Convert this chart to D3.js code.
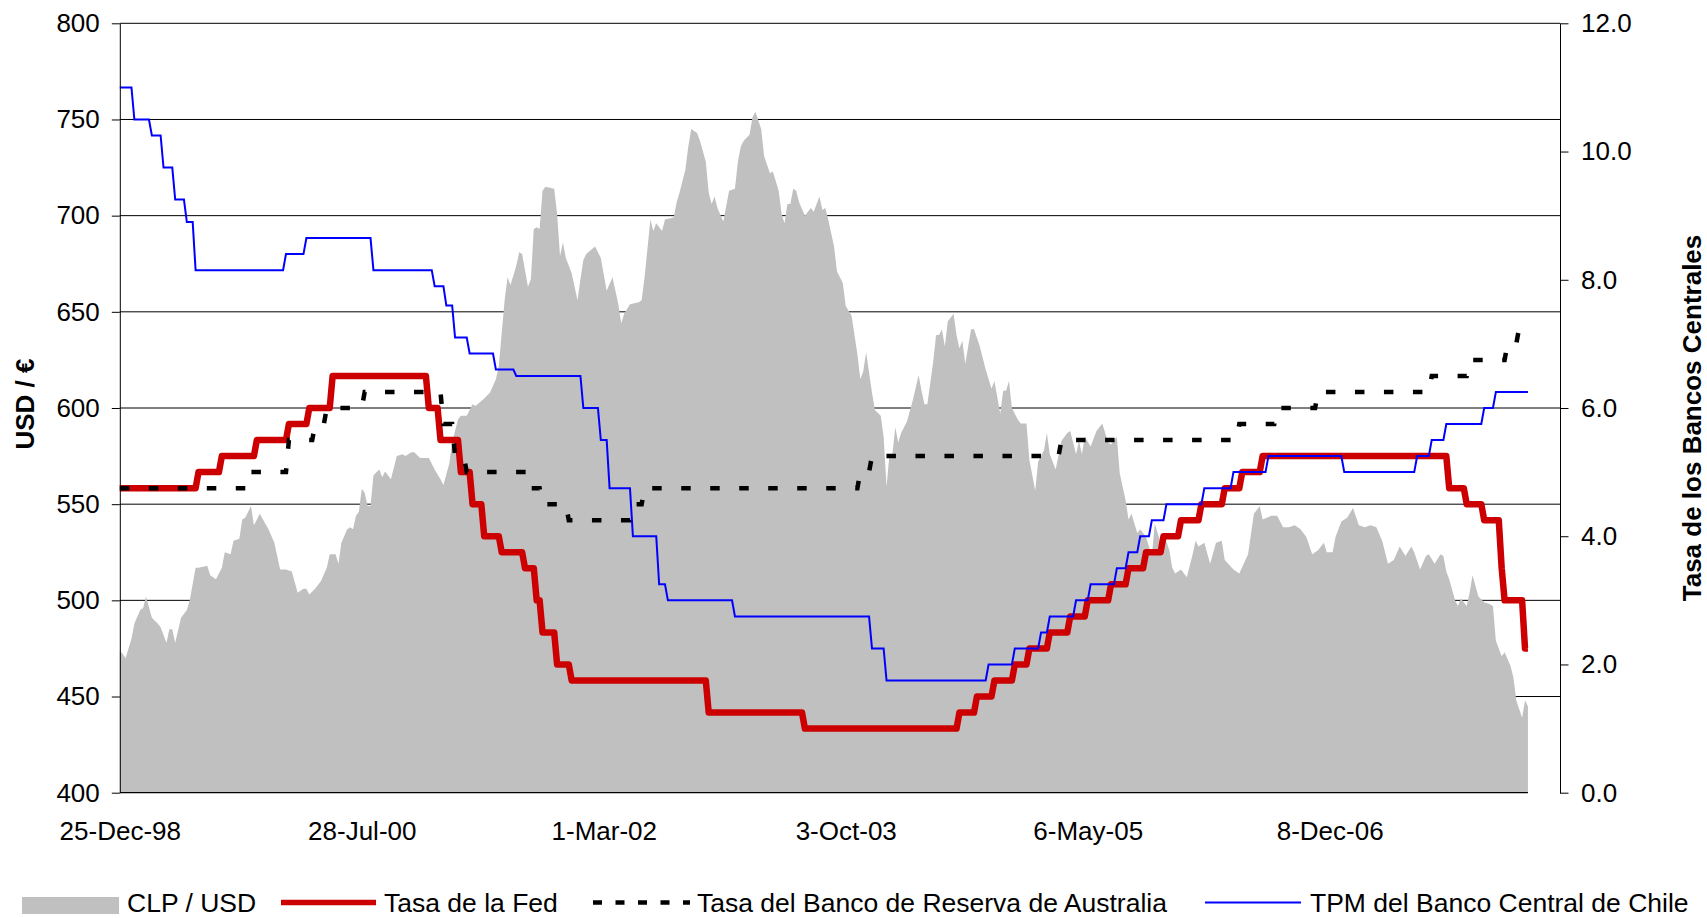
<!DOCTYPE html>
<html lang="es">
<head>
<meta charset="UTF-8">
<title>CLP/USD y tasas de bancos centrales</title>
<style>
    body {
        margin: 0;
        background: #fff;
        overflow: hidden;
    }
    svg {
        display: block;
        font-family: "Liberation Sans", Arial, sans-serif;
    }
    .tick text {
        font-size: 26px;
        fill: #000;
    }
    .grid line {
        stroke: #000;
        stroke-width: 1;
    }
    .legend text {
        font-size: 26.5px;
    }
</style>
</head>
<body>

<svg id="chart" width="1707" height="918"></svg>

<script src="https://cdnjs.cloudflare.com/ajax/libs/d3/7.8.5/d3.min.js"></script>
<script>
// weekly rows (Fridays), first row 25-Dec-98, last row 28-Mar-08
const startDate = "1998-12-25";
const endDate = "2008-03-28";
const axisEnd = "2008-06-13";

const xTickDates = ["1998-12-25", "2000-07-28", "2002-03-01", "2003-10-03", "2005-05-06", "2006-12-08"];
const usdTicks = [400, 450, 500, 550, 600, 650, 700, 750, 800];
const rateTicks = [0, 2, 4, 6, 8, 10, 12];

const seriesNames = ["CLP / USD", "Tasa de la Fed", "Tasa del Banco de Reserva de Australia", "TPM del Banco Central de Chile"];

// CLP / USD, [week number counted from 25-Dec-98, value]
const clpUsd = [
    [0, 474], [2, 470], [4, 480], [5, 488], [7, 495], [8, 496], [9, 502], [11, 491], [13, 488], [14, 486],
    [16, 478], [17, 485], [18, 485], [19, 478], [21, 491], [23, 495], [24, 500], [26, 517], [27, 517], [30, 518],
    [31, 513], [33, 511], [35, 517], [36, 525], [38, 524], [39, 531], [41, 532], [42, 542], [43, 543], [45, 549],
    [46, 539], [48, 545], [51, 537], [53, 530], [55, 516], [57, 516], [59, 515], [61, 504], [63, 506], [64, 506],
    [65, 503], [67, 506], [69, 510], [71, 517], [72, 524], [74, 524], [75, 519], [76, 530], [78, 537], [79, 538],
    [80, 537], [81, 544], [82, 546], [83, 558], [84, 556], [85, 549], [86, 549], [87, 565], [89, 568], [90, 564],
    [91, 567], [93, 563], [95, 575], [97, 576], [98, 575], [100, 577], [101, 577], [103, 574], [106, 574], [108, 568],
    [110, 563], [111, 560], [113, 571], [114, 582], [116, 594], [117, 596], [119, 596], [121, 602], [122, 601], [125, 605],
    [127, 608], [129, 615], [130, 622], [131, 639], [132, 656], [133, 668], [134, 664], [136, 674], [137, 681], [138, 680],
    [140, 663], [141, 667], [142, 693], [143, 694], [144, 693], [145, 713], [146, 715], [149, 714], [150, 701], [151, 679],
    [152, 686], [153, 678], [155, 670], [157, 656], [158, 667], [159, 677], [160, 680], [163, 684], [165, 678], [167, 661],
    [169, 668], [171, 654], [172, 644], [173, 649], [175, 654], [178, 655], [179, 656], [180, 668], [182, 698], [183, 692],
    [184, 696], [186, 692], [187, 698], [190, 699], [191, 707], [192, 712], [194, 724], [195, 736], [196, 745], [198, 743],
    [199, 739], [201, 728], [202, 712], [203, 706], [204, 710], [205, 704], [207, 697], [209, 713], [211, 714], [212, 728],
    [213, 736], [214, 739], [216, 742], [217, 751], [218, 754], [220, 745], [221, 731], [223, 722], [224, 723], [226, 713],
    [227, 701], [228, 696], [229, 706], [230, 706], [231, 714], [232, 713], [233, 707], [235, 700], [237, 704], [238, 702],
    [240, 710], [241, 703], [242, 704], [243, 698], [245, 684], [246, 671], [248, 665], [249, 653], [251, 648], [253, 628],
    [254, 615], [255, 619], [256, 629], [258, 608], [259, 599], [261, 596], [262, 585], [263, 559], [264, 576], [265, 576],
    [266, 590], [267, 582], [268, 587], [270, 593], [272, 604], [274, 617], [275, 609], [276, 602], [277, 602], [279, 624],
    [280, 638], [281, 638], [282, 641], [283, 632], [284, 645], [286, 649], [287, 638], [288, 631], [289, 635], [290, 623],
    [292, 641], [293, 641], [295, 632], [297, 620], [299, 610], [300, 614], [302, 597], [303, 609], [304, 609], [305, 614],
    [306, 600], [308, 594], [309, 592], [311, 592], [312, 573], [314, 557], [315, 572], [317, 578], [318, 587], [319, 576],
    [321, 568], [323, 583], [325, 587], [326, 588], [328, 576], [329, 583], [330, 576], [331, 585], [333, 580], [335, 588],
    [337, 592], [339, 582], [340, 581], [342, 585], [343, 566], [345, 552], [346, 542], [347, 545], [349, 535], [350, 537],
    [352, 533], [354, 523], [355, 540], [357, 530], [358, 535], [360, 526], [361, 517], [362, 514], [364, 516], [366, 512],
    [368, 524], [369, 531], [370, 528], [372, 530], [374, 519], [376, 530], [378, 531], [379, 521], [382, 516], [384, 514],
    [387, 524], [389, 545], [391, 549], [392, 542], [395, 544], [397, 544], [399, 538], [401, 538], [403, 539], [405, 537],
    [407, 533], [409, 524], [411, 526], [413, 530], [414, 525], [416, 525], [417, 533], [419, 541], [421, 543], [423, 548],
    [425, 539], [427, 538], [429, 539], [431, 538], [433, 531], [435, 519], [437, 521], [439, 528], [441, 523], [443, 528],
    [444, 525], [446, 516], [448, 523], [449, 524], [451, 519], [453, 524], [454, 523], [455, 515], [456, 511], [458, 500],
    [459, 497], [460, 501], [462, 497], [463, 504], [464, 513], [466, 502], [468, 499], [470, 498], [471, 497], [472, 479],
    [474, 471], [475, 473], [477, 466], [478, 460], [479, 448], [481, 439], [482, 448], [483, 445]
];

// policy rates, [date of change, rate %]
const fedRate = [
    ["1998-12-25", 4.75], ["1999-06-30", 5.00], ["1999-08-24", 5.25], ["1999-11-16", 5.50], ["2000-02-02", 5.75],
    ["2000-03-21", 6.00], ["2000-05-16", 6.50], ["2001-01-03", 6.00], ["2001-01-31", 5.50], ["2001-03-20", 5.00],
    ["2001-04-18", 4.50], ["2001-05-15", 4.00], ["2001-06-27", 3.75], ["2001-08-21", 3.50], ["2001-09-17", 3.00],
    ["2001-10-02", 2.50], ["2001-11-06", 2.00], ["2001-12-11", 1.75], ["2002-11-06", 1.25], ["2003-06-25", 1.00],
    ["2004-06-30", 1.25], ["2004-08-10", 1.50], ["2004-09-21", 1.75], ["2004-11-10", 2.00], ["2004-12-14", 2.25],
    ["2005-02-02", 2.50], ["2005-03-22", 2.75], ["2005-05-03", 3.00], ["2005-06-30", 3.25], ["2005-08-09", 3.50],
    ["2005-09-20", 3.75], ["2005-11-01", 4.00], ["2005-12-13", 4.25], ["2006-01-31", 4.50], ["2006-03-28", 4.75],
    ["2006-05-10", 5.00], ["2006-06-29", 5.25], ["2007-09-18", 4.75], ["2007-10-31", 4.50], ["2007-12-11", 4.25],
    ["2008-01-22", 3.50], ["2008-01-30", 3.00], ["2008-03-18", 2.25]
];

const rbaRate = [
    ["1998-12-25", 4.75], ["1999-11-03", 5.00], ["2000-02-02", 5.50], ["2000-04-05", 5.75], ["2000-05-03", 6.00],
    ["2000-08-02", 6.25], ["2001-02-07", 5.75], ["2001-03-07", 5.25], ["2001-04-04", 5.00], ["2001-09-05", 4.75],
    ["2001-10-03", 4.50], ["2001-12-05", 4.25], ["2002-05-08", 4.50], ["2002-06-05", 4.75], ["2003-11-05", 5.00],
    ["2003-12-03", 5.25], ["2005-03-02", 5.50], ["2006-05-03", 5.75], ["2006-08-02", 6.00], ["2006-11-08", 6.25],
    ["2007-08-08", 6.50], ["2007-11-07", 6.75], ["2008-02-06", 7.00], ["2008-03-05", 7.25]
];

const tpmChile = [
    ["1998-12-25", 11.0], ["1999-01-25", 10.5], ["1999-03-06", 10.25], ["1999-04-05", 9.75], ["1999-05-05", 9.25],
    ["1999-05-29", 8.9], ["1999-06-21", 8.15], ["2000-01-22", 8.4], ["2000-03-11", 8.65], ["2000-08-24", 8.15],
    ["2001-01-14", 7.9], ["2001-02-16", 7.6], ["2001-03-06", 7.1], ["2001-04-10", 6.85], ["2001-06-11", 6.6],
    ["2001-07-31", 6.5], ["2002-01-08", 6.0], ["2002-02-21", 5.5], ["2002-03-09", 4.75], ["2002-05-07", 4.0],
    ["2002-07-10", 3.25], ["2002-08-01", 3.0], ["2003-01-07", 2.75], ["2003-12-05", 2.25], ["2004-01-04", 1.75],
    ["2004-09-04", 2.0], ["2004-11-08", 2.25], ["2005-01-09", 2.5], ["2005-02-03", 2.75], ["2005-04-04", 3.0],
    ["2005-05-08", 3.25], ["2005-07-14", 3.5], ["2005-08-12", 3.75], ["2005-09-07", 4.0], ["2005-10-07", 4.25],
    ["2005-11-05", 4.5], ["2006-02-08", 4.75], ["2006-04-18", 5.0], ["2006-07-08", 5.25], ["2007-01-07", 5.0],
    ["2007-07-05", 5.25], ["2007-08-05", 5.5], ["2007-09-08", 5.75], ["2007-12-11", 6.0], ["2008-01-06", 6.25]
];

const parse = d3.timeParse("%Y-%m-%d");
const t0 = parse(startDate);
const t1 = parse(endDate);

const svg = d3.select("#chart");

const x = d3.scaleTime()
    .domain([t0, parse(axisEnd)])
    .range([119.8, 1560]);

const yUsd = d3.scaleLinear()
    .domain([400, 800])
    .range([792.7, 23.3]);

const yRate = d3.scaleLinear()
    .domain([0, 12])
    .range([792.7, 23.3]);

const weekDate = w => d3.timeDay.offset(t0, 7 * w);

// the sheet has one row per Friday, so rates are drawn at weekly rows too
const fridays = d3.timeDay.range(t0, d3.timeDay.offset(t1, 1), 7);
function weekly(changes) {
    const ch = changes.map(d => [parse(d[0]), d[1]]);
    return fridays.map(f => {
        let v = ch[0][1];
        ch.forEach(c => { if (c[0] <= f) v = c[1]; });
        return [f, v];
    });
}

// gridlines (behind the area)
svg.append("g")
    .attr("class", "grid")
    .selectAll("line")
    .data(usdTicks.filter(d => d > 400))
    .enter()
    .append("line")
    .attr("x1", x.range()[0])
    .attr("x2", x.range()[1])
    .attr("y1", d => yUsd(d))
    .attr("y2", d => yUsd(d));

// CLP / USD area
const area = d3.area()
    .x(d => x(weekDate(d[0])))
    .y0(yUsd(400))
    .y1(d => yUsd(d[1]));

svg.append("path")
    .datum(clpUsd)
    .attr("d", area)
    .attr("fill", "#c0c0c0");

const rateLine = d3.line()
    .x(d => x(d[0]))
    .y(d => yRate(d[1]));

svg.append("path")
    .datum(weekly(fedRate))
    .attr("d", rateLine)
    .attr("fill", "none")
    .attr("stroke", "#cc0000")
    .attr("stroke-width", 6.5)
    .attr("stroke-linejoin", "round");

svg.append("path")
    .datum(weekly(rbaRate))
    .attr("d", rateLine)
    .attr("fill", "none")
    .attr("stroke", "#000")
    .attr("stroke-width", 4.5)
    .attr("stroke-dasharray", "9.5,19.5");

svg.append("path")
    .datum(weekly(tpmChile))
    .attr("d", rateLine)
    .attr("fill", "none")
    .attr("stroke", "#0000ff")
    .attr("stroke-width", 2);

// axes
const leftAxis = svg.append("g")
    .attr("transform", `translate(${x.range()[0]},0)`)
    .call(d3.axisLeft(yUsd).tickValues(usdTicks).tickSizeInner(8).tickSizeOuter(0).tickPadding(12));

const rightAxis = svg.append("g")
    .attr("transform", `translate(${x.range()[1]},0)`)
    .call(d3.axisRight(yRate).tickValues(rateTicks).tickSizeInner(8.5).tickSizeOuter(0).tickPadding(12.5)
        .tickFormat(d3.format(".1f")));

const bottomAxis = svg.append("g")
    .attr("transform", `translate(0,${yUsd(400)})`)
    .call(d3.axisBottom(x).tickValues(xTickDates.map(parse)).tickSize(0).tickPadding(29)
        .tickFormat(d3.timeFormat("%-d-%b-%y")));
bottomAxis.select(".domain").remove();

svg.append("line")
    .attr("x1", x(t0))
    .attr("x2", x(t1))
    .attr("y1", yUsd(400))
    .attr("y2", yUsd(400))
    .attr("stroke", "#000")
    .attr("stroke-width", 1.2);

[leftAxis, rightAxis].forEach(a => {
    a.selectAll(".domain, .tick line").attr("stroke", "#000");
    a.selectAll("text").style("font-family", "'Liberation Sans', Arial, sans-serif");
});
bottomAxis.selectAll("text").style("font-family", "'Liberation Sans', Arial, sans-serif");

// axis titles
svg.append("text")
    .attr("transform", "translate(34,404) rotate(-90)")
    .attr("text-anchor", "middle")
    .style("font-size", "26px")
    .style("font-weight", "bold")
    .text("USD / €");

svg.append("text")
    .attr("transform", "translate(1701,418) rotate(-90)")
    .attr("text-anchor", "middle")
    .style("font-size", "26px")
    .style("font-weight", "bold")
    .text("Tasa de los Bancos Centrales");

// legend
const legend = svg.append("g").attr("class", "legend");

legend.append("rect")
    .attr("x", 22).attr("y", 897)
    .attr("width", 97).attr("height", 17)
    .attr("fill", "#c0c0c0");

legend.append("line")
    .attr("x1", 281).attr("x2", 376).attr("y1", 902.5).attr("y2", 902.5)
    .attr("stroke", "#cc0000").attr("stroke-width", 5.5);

legend.append("line")
    .attr("x1", 593).attr("x2", 690).attr("y1", 902.5).attr("y2", 902.5)
    .attr("stroke", "#000").attr("stroke-width", 4.5)
    .attr("stroke-dasharray", "9,13.5");

legend.append("line")
    .attr("x1", 1205).attr("x2", 1301).attr("y1", 902.5).attr("y2", 902.5)
    .attr("stroke", "#0000ff").attr("stroke-width", 2);

const legendX = [127, 384, 697, 1310];
legend.selectAll("text.item")
    .data(seriesNames)
    .enter()
    .append("text")
    .attr("class", "item")
    .attr("x", (d, i) => legendX[i])
    .attr("y", 912)
    .text(d => d);
</script>

</body>
</html>
